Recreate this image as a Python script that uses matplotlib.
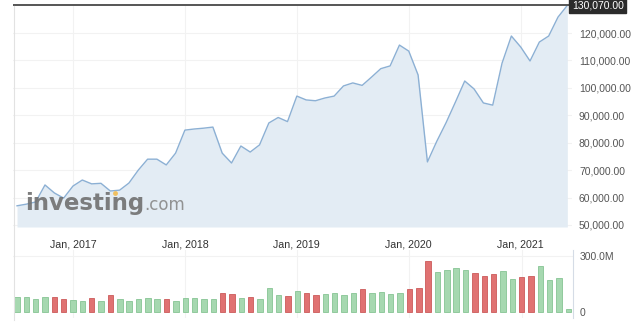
import matplotlib
matplotlib.use("Agg")
import matplotlib.pyplot as plt
from matplotlib.lines import Line2D

# monthly closes, Jul 2016 .. Jun 2021
months = ["Jul 2016", "Aug 2016", "Sep 2016", "Oct 2016", "Nov 2016", "Dec 2016",
          "Jan 2017", "Feb 2017", "Mar 2017", "Apr 2017", "May 2017", "Jun 2017",
          "Jul 2017", "Aug 2017", "Sep 2017", "Oct 2017", "Nov 2017", "Dec 2017",
          "Jan 2018", "Feb 2018", "Mar 2018", "Apr 2018", "May 2018", "Jun 2018",
          "Jul 2018", "Aug 2018", "Sep 2018", "Oct 2018", "Nov 2018", "Dec 2018",
          "Jan 2019", "Feb 2019", "Mar 2019", "Apr 2019", "May 2019", "Jun 2019",
          "Jul 2019", "Aug 2019", "Sep 2019", "Oct 2019", "Nov 2019", "Dec 2019",
          "Jan 2020", "Feb 2020", "Mar 2020", "Apr 2020", "May 2020", "Jun 2020",
          "Jul 2020", "Aug 2020", "Sep 2020", "Oct 2020", "Nov 2020", "Dec 2020",
          "Jan 2021", "Feb 2021", "Mar 2021", "Apr 2021", "May 2021", "Jun 2021"]
close = [57000, 57600, 58400, 64600, 61700, 59800,
         64200, 66400, 65000, 65200, 62400, 62700,
         65300, 70000, 74000, 74000, 71900, 76200,
         84600, 85000, 85300, 85700, 76200, 72600,
         78800, 76600, 79200, 87200, 89200, 87700,
         97000, 95600, 95300, 96300, 97000, 100700,
         101800, 100900, 103900, 107000, 108000, 115600,
         113400, 104700, 73000, 80500, 87300, 94800,
         102500, 99600, 94500, 93700, 109000, 118900,
         114900, 109800, 116700, 118900, 125800, 130070]
volume_m = [80, 83, 69, 80, 83, 69,
            62, 59, 73, 59, 89, 70,
            59, 71, 73, 69, 70, 59,
            73, 73, 71, 71, 100, 94,
            73, 83, 69, 126, 90, 85,
            113, 101, 91, 94, 101, 91,
            101, 123, 101, 108, 94, 101,
            121, 128, 271, 214, 223, 234,
            223, 207, 193, 202, 220, 178,
            187, 193, 248, 171, 184, 15]
jan_labels = ["Jan, 2017", "Jan, 2018", "Jan, 2019", "Jan, 2020", "Jan, 2021"]
last_price = 130070

W, H = 633, 327
fig = plt.figure(figsize=(W / 100, H / 100), dpi=100)
plt.rcParams['font.family'] = ['Liberation Sans', 'DejaVu Sans']

def box(x0, y0, x1, y1):
    return [x0 / W, 1 - y1 / H, (x1 - x0) / W, (y1 - y0) / H]

x = list(range(len(close)))
jan_idx = [months.index(m.replace(",", "")) for m in jan_labels]
xlim = (-0.43, 59.5)

# price panel
ax = fig.add_axes(box(13, 4, 572, 227))
ybot = 50000 - 2 * 364.6
ax.set_xlim(*xlim)
ax.set_ylim(ybot, 120000 + 29 * 364.6)
for v in range(50000, 130000, 10000):
    ax.axhline(v, color="#f2f2f2", lw=0.8, zorder=0)
for j in jan_idx:
    ax.axvline(j, color="#f2f2f2", lw=0.8, zorder=0)
ax.fill_between(x, close, ybot, color="#e3ecf4", lw=0, zorder=1)
ax.plot(x, close, color="#8cb0d4", lw=1.0, zorder=3)
ax.axhline(last_price, color="#555555", lw=1.4, zorder=4)
for s in ax.spines.values():
    s.set_visible(False)
ax.yaxis.tick_right()
ax.set_yticks(range(50000, 130000, 10000))
ax.set_yticklabels([f"{v:,.2f}" for v in range(50000, 130000, 10000)])
ax.tick_params(axis="y", length=0, pad=5, labelsize=7.5, labelcolor="#555555")
ax.set_xticks(jan_idx)
ax.set_xticklabels(jan_labels)
ax.tick_params(axis="x", length=0, pad=9, labelsize=7.7, labelcolor="#333333")
ax.text(1.0, last_price, f"{last_price:,.2f}", transform=ax.get_yaxis_transform(),
        ha="left", va="center", fontsize=7.5, color="white", zorder=6,
        bbox=dict(boxstyle="square,pad=0.25", fc="#2b2b2b", ec="#2b2b2b"))

# watermark
fig.text(25 / W, 1 - 210 / H, "investing", fontsize=16.5, fontweight="bold",
         family="DejaVu Sans", color="#707070", alpha=0.9, va="baseline")
fig.text(144 / W, 1 - 210 / H, ".com", fontsize=12, family="DejaVu Sans",
         color="#888888", alpha=0.9, va="baseline")
fig.add_artist(Line2D([115 / W], [1 - 193 / H], marker="o", ms=3.5,
                      color="#f0c060", mec="none"))

# volume panel
vx = fig.add_axes(box(13, 250, 573, 318))
vx.set_xlim(*xlim)
vx.set_ylim(-32, 332)
vx.axhline(300, color="#f2f2f2", lw=0.8, zorder=0)
for j in jan_idx:
    vx.axvline(j, color="#f2f2f2", lw=0.8, zorder=0)
colors, edges = [], []
for i, c in enumerate(close):
    up = i == 0 or c >= close[i - 1]
    colors.append("#a6d8b0" if up else "#e07272")
    edges.append("#86c494" if up else "#cc5a5a")
vx.bar(x, volume_m, width=0.58, color=colors, edgecolor=edges, lw=0.6, zorder=2)
for k, s in vx.spines.items():
    s.set_visible(k == "right")
vx.spines["right"].set_color("#d5dce6")
vx.yaxis.tick_right()
vx.set_yticks([0, 300])
vx.set_yticklabels(["0", "300.0M"])
vx.tick_params(axis="y", length=0, pad=5, labelsize=7.5, labelcolor="#555555")
vx.set_xticks([])

fig.add_artist(Line2D([13.5 / W] * 2, [1 - 6 / H, 1 - 320 / H], color="#e2e2e2", lw=0.8))

fig.savefig("out.png", dpi=100)
